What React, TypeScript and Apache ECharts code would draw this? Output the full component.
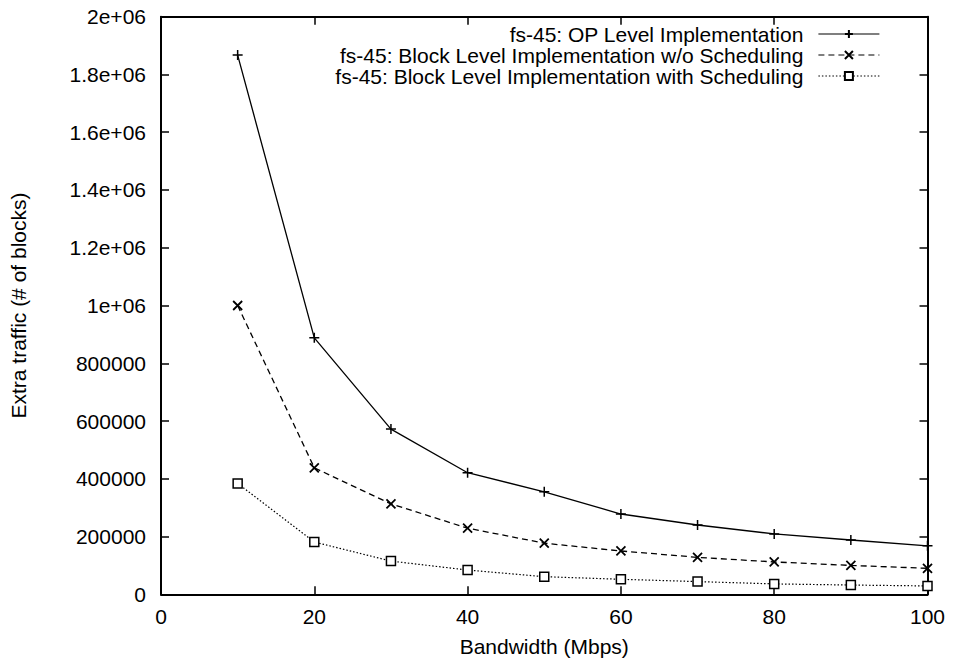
import React, { useEffect, useRef } from "react";
import * as echarts from "echarts";

const bandwidth = [10, 20, 30, 40, 50, 60, 70, 80, 90, 100];
const opLevel = [1867000, 888000, 572000, 421000, 355000, 278000, 240000, 209000, 188000, 168000];
const blockNoSched = [1000000, 438000, 313000, 229000, 177000, 150000, 128000, 112000, 100000, 90000];
const blockSched = [384000, 181000, 115000, 84000, 61000, 52000, 44000, 36000, 32000, 29000];
const seriesNames = [
  "fs-45: OP Level Implementation",
  "fs-45: Block Level Implementation w/o Scheduling",
  "fs-45: Block Level Implementation with Scheduling",
];

const FONT = "'Liberation Sans', Arial, Helvetica, sans-serif";
const FS = 21;

function fmtY(v: number): string {
  if (v >= 1000000) {
    const m = Math.round((v / 1000000) * 10) / 10;
    return `${m}e+06`;
  }
  return String(Math.round(v));
}

export default function App() {
  const ref = useRef<HTMLDivElement>(null);
  useEffect(() => {
    document.body.style.margin = "0";
    if (!ref.current) return;
    const chart = echarts.init(ref.current, undefined, { renderer: "svg" });
    const pair = (arr: number[]) => bandwidth.map((b, i) => [b, arr[i]]);
    const axisCommon = {
      axisLine: { show: true, onZero: false, lineStyle: { color: "#000", width: 2 } },
      axisTick: { show: true, inside: true, length: 8, lineStyle: { color: "#000", width: 1.5 } },
      splitLine: { show: false },
    };
    chart.setOption({
      animation: false,
      backgroundColor: "#fff",
      textStyle: { fontFamily: FONT, color: "#000" },
      grid: { left: 161, right: 27.5, top: 16.7, bottom: 70.7, containLabel: false },
      legend: {
        orient: "vertical",
        right: 70,
        top: 18.5,
        align: "right",
        itemWidth: 61,
        itemHeight: 10,
        itemGap: 0,
        lineStyle: { width: 1.2 },
        textStyle: { fontFamily: FONT, fontSize: FS, color: "#000", lineHeight: 21, padding: [0, 10, 0, 0] },
        data: seriesNames,
      },
      xAxis: [
        {
          type: "value",
          min: 0,
          max: 100,
          interval: 20,
          position: "bottom",
          name: "Bandwidth (Mbps)",
          nameLocation: "middle",
          nameGap: 42,
          nameTextStyle: { fontFamily: FONT, fontSize: FS, color: "#000" },
          axisLabel: { fontFamily: FONT, fontSize: FS, color: "#000", margin: 12 },
          ...axisCommon,
        },
        {
          type: "value",
          min: 0,
          max: 100,
          interval: 20,
          position: "top",
          axisLabel: { show: false },
          ...axisCommon,
        },
      ],
      yAxis: [
        {
          type: "value",
          min: 0,
          max: 2000000,
          interval: 200000,
          position: "left",
          name: "Extra traffic (# of blocks)",
          nameLocation: "middle",
          nameGap: 132,
          nameRotate: 90,
          nameTextStyle: { fontFamily: FONT, fontSize: FS, color: "#000" },
          axisLabel: { fontFamily: FONT, fontSize: FS, color: "#000", margin: 15, formatter: fmtY },
          ...axisCommon,
        },
        {
          type: "value",
          min: 0,
          max: 2000000,
          interval: 200000,
          position: "right",
          axisLabel: { show: false },
          ...axisCommon,
        },
      ],
      series: [
        {
          name: seriesNames[0],
          type: "line",
          data: pair(opLevel),
          symbol: "path://M0,-5L0,5M-5,0L5,0",
          symbolSize: 10,
          showAllSymbol: true,
          lineStyle: { color: "#000", width: 1.3, type: "solid" },
          itemStyle: { color: "#000", borderColor: "#000", borderWidth: 1.5 },
        },
        {
          name: seriesNames[1],
          type: "line",
          data: pair(blockNoSched),
          symbol: "path://M-5,-5L5,5M-5,5L5,-5",
          symbolSize: 9,
          showAllSymbol: true,
          lineStyle: { color: "#000", width: 1.3, type: [6, 4] },
          itemStyle: { color: "#000", borderColor: "#000", borderWidth: 1.8 },
        },
        {
          name: seriesNames[2],
          type: "line",
          data: pair(blockSched),
          symbol: "rect",
          symbolSize: 9,
          showAllSymbol: true,
          lineStyle: { color: "#000", width: 1.2, type: [1.5, 2] },
          itemStyle: { color: "#fff", borderColor: "#000", borderWidth: 1.5 },
        },
      ],
    });
    return () => chart.dispose();
  }, []);
  return <div ref={ref} style={{ position: "absolute", left: 0, top: 0, width: 955, height: 665 }} />;
}
